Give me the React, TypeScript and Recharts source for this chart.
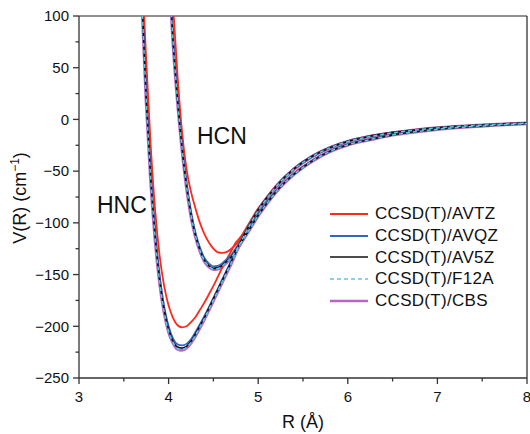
import React, { useLayoutEffect } from "react";
import { LineChart, Line, XAxis, YAxis, ReferenceLine, Legend } from "recharts";

const FONT = '"Liberation Sans", Arial, Helvetica, sans-serif';

if (typeof document !== "undefined" && document.body) {
  document.body.style.margin = "0";
}

// R grid (Å)
const rGrid = [
  3.65, 3.7, 3.75, 3.8, 3.85, 3.9, 3.95, 4.0, 4.05, 4.1, 4.15, 4.2, 4.25, 4.3, 4.35, 4.4, 4.45, 4.5, 4.55, 4.6,
  4.65, 4.7, 4.75, 4.8, 4.9, 5.0, 5.1, 5.2, 5.4, 5.6, 5.8, 6.0, 6.25, 6.5, 6.75, 7.0, 7.5, 8.0,
];

// HNC well (cm-1)
const hncAVTZ = [
  265, 150, 58, -25, -88, -132, -161, -180, -192, -199, -201, -200, -196, -191, -184, -177, -169, -161, -152, -143,
  -135, -127, -119, -114, -100, -86, -74.5, -64, -47.5, -35.5, -27, -21, -16, -12.5, -10, -8, -5.3, -3.5,
];
const hncAVQZ = [
  252, 123, 23, -53, -110, -152, -181, -200, -212, -217.5, -218.5, -217, -212.5, -205.5, -198, -190, -181.5, -172.5,
  -163.5, -154.5, -145.5, -136.5, -127, -118, -101.5, -87, -75, -64.5, -47.5, -35.5, -27, -21, -16, -12.5, -10, -8,
  -5.3, -3.5,
];
const hncAV5Z = [
  251, 122, 21, -55.5, -113, -155, -184, -203, -214.5, -220, -221, -219.5, -214.5, -207.5, -199.5, -191.5, -182.5,
  -173.5, -164.5, -155.5, -146.5, -137.5, -128, -119, -102.5, -87.5, -75.5, -64.8, -47.8, -35.8, -27.3, -21.3, -16.3,
  -12.8, -10.2, -8.1, -5.4, -3.5,
];
const hncF12A = [
  250, 121, 20.5, -56.5, -114.5, -156.5, -185.5, -204.5, -215.5, -221.5, -222.5, -220.5, -215.5, -208.5, -200.5,
  -192.5, -183.5, -174.5, -165.5, -156.5, -147.5, -138.5, -128.8, -119.8, -103, -88, -76, -65, -48, -36, -27.5, -21.5,
  -16.5, -13, -10.3, -8.2, -5.5, -3.6,
];
const hncCBS = [
  250, 121, 20, -57, -115, -157, -186, -205, -216, -222, -223, -221, -216, -209, -201, -193, -184, -175, -166, -157,
  -148, -139, -129, -120, -103, -88, -76, -65, -48, -36, -27.5, -21.5, -16.5, -13, -10.3, -8.2, -5.5, -3.6,
];

// HCN well (cm-1)
const hcnAVTZ = [
  null, null, null, null, null, null, null, 190, 110, 42, -12, -48, -70, -86, -100, -111, -119, -125, -128.5, -129,
  -128, -125, -121, -116, -104, -91, -79.5, -69, -52, -40, -30.7, -24.2, -19.2, -14.8, -11.8, -9.4, -6.2, -4,
];
const hcnAVQZ = [
  null, null, null, null, null, null, null, 152, 77, 20, -25.5, -62, -90, -110, -124, -134, -139.5, -142, -141.5, -139,
  -135, -131, -124.5, -118, -105, -91.5, -79.5, -69, -52.5, -40, -30.7, -24.2, -19.2, -14.8, -11.8, -9.4, -6.2, -4,
];
const hcnAV5Z = [
  null, null, null, null, null, null, null, 151, 76, 19, -27, -64, -92, -112, -126, -136, -141.5, -144, -143.5, -141,
  -137, -133, -126.3, -120, -106.5, -92.7, -80.7, -69.8, -53, -40.3, -30.9, -24.4, -19.4, -14.9, -11.9, -9.5, -6.3, -4,
];
const hcnF12A = [
  null, null, null, null, null, null, null, 150, 75, 18.5, -27.5, -64.5, -92.5, -112.5, -126.5, -136.5, -142, -144.7,
  -144.2, -141.7, -137.7, -133.7, -126.8, -120.3, -106.8, -92.9, -80.9, -70, -53, -40.5, -31, -24.5, -19.5, -15, -12,
  -9.5, -6.3, -4,
];
const hcnCBS = [
  null, null, null, null, null, null, null, 150, 75, 18, -28, -65, -93, -113, -127, -137, -142.5, -145, -144.5, -142,
  -138, -134, -127, -120.5, -107, -93, -81, -70, -53, -40.5, -31, -24.5, -19.5, -15, -12, -9.5, -6.3, -4,
];

const xTicks = [3, 3.5, 4, 4.5, 5, 5.5, 6, 6.5, 7, 7.5, 8];
const yTicks = [-250, -225, -200, -175, -150, -125, -100, -75, -50, -25, 0, 25, 50, 75, 100];

const methods = [
  { name: "CCSD(T)/AVTZ", key: "avtz", color: "#ff2a1a", width: 1.8, dash: undefined as string | undefined },
  { name: "CCSD(T)/AVQZ", key: "avqz", color: "#3565c2", width: 1.8, dash: undefined },
  { name: "CCSD(T)/AV5Z", key: "av5z", color: "#111111", width: 1.6, dash: undefined },
  { name: "CCSD(T)/F12A", key: "f12a", color: "#5cc8e4", width: 1.5, dash: "4 3" },
  { name: "CCSD(T)/CBS", key: "cbs", color: "#b468c6", width: 3.4, dash: undefined },
];

const data = rGrid.map((r, i) => ({
  r,
  hnc_avtz: hncAVTZ[i],
  hnc_avqz: hncAVQZ[i],
  hnc_av5z: hncAV5Z[i],
  hnc_f12a: hncF12A[i],
  hnc_cbs: hncCBS[i],
  hcn_avtz: hcnAVTZ[i],
  hcn_avqz: hcnAVQZ[i],
  hcn_av5z: hcnAV5Z[i],
  hcn_f12a: hcnF12A[i],
  hcn_cbs: hcnCBS[i],
}));

const AXIS = "#333";

const XTick = (props: any) => {
  const { x, y, payload } = props;
  const v = payload.value;
  const major = Number.isInteger(v);
  return (
    <g>
      <line x1={x} x2={x} y1={y} y2={y + (major ? 6 : 3.5)} stroke={AXIS} strokeWidth={1.3} />
      {major && (
        <text x={x} y={y + 24} textAnchor="middle" fontSize={15} fill="#111" fontFamily={FONT}>
          {v}
        </text>
      )}
    </g>
  );
};

const YTick = (props: any) => {
  const { x, y, payload } = props;
  const v = payload.value;
  const major = v % 50 === 0;
  return (
    <g>
      <line x1={x} x2={x - (major ? 6 : 3.5)} y1={y} y2={y} stroke={AXIS} strokeWidth={1.3} />
      {major && (
        <text x={x - 10} y={y} dy={5.3} textAnchor="end" fontSize={15} fill="#111" fontFamily={FONT}>
          {v < 0 ? "\u2212" + Math.abs(v) : String(v)}
        </text>
      )}
    </g>
  );
};

const YTitle = () => (
  <text
    x={26}
    y={198}
    transform="rotate(-90 26 198)"
    textAnchor="middle"
    fontSize={18}
    fill="#111"
    fontFamily={FONT}
  >
    <tspan>V(R) (cm</tspan>
    <tspan fontSize={12} dy={-7}>
      {"\u22121"}
    </tspan>
    <tspan dy={7}>)</tspan>
  </text>
);

const XTitle = () => (
  <text x={303} y={428} textAnchor="middle" fontSize={18} fill="#111" fontFamily={FONT}>
    R (Å)
  </text>
);

const LegendBox = () => (
  <div style={{ fontFamily: FONT, fontSize: 17, color: "#111", letterSpacing: 0.3, lineHeight: "21.75px" }}>
    {methods.map((m) => (
      <div key={m.key} style={{ display: "flex", alignItems: "center", height: 21.75, whiteSpace: "nowrap" }}>
        <svg width={38} height={10} style={{ marginRight: 7, flex: "none" }}>
          <line
            x1={0}
            x2={38}
            y1={5}
            y2={5}
            stroke={m.color}
            strokeWidth={m.key === "cbs" ? 2.4 : m.width}
            strokeDasharray={m.dash}
          />
        </svg>
        <span>{m.name}</span>
      </div>
    ))}
  </div>
);

const drawOrder = ["cbs", "avtz", "avqz", "av5z", "f12a"];

export default function App() {
  useLayoutEffect(() => {
    document.body.style.margin = "0";
  }, []);

  const lines: React.ReactNode[] = [];
  drawOrder.forEach((k) => {
    const m = methods.find((mm) => mm.key === k)!;
    ["hnc", "hcn"].forEach((mol) => {
      lines.push(
        <Line
          key={mol + k}
          type="monotone"
          dataKey={`${mol}_${k}`}
          name={m.name}
          stroke={m.color}
          strokeWidth={m.width}
          strokeDasharray={m.dash}
          dot={false}
          activeDot={false}
          isAnimationActive={false}
          connectNulls={false}
          legendType="none"
        />
      );
    });
  });

  return (
    <div style={{ width: 530, height: 434 }}>
      <LineChart
        width={530}
        height={434}
        data={data}
        margin={{ top: 16, right: 3, left: 8, bottom: 0 }}
        style={{ fontFamily: FONT }}
      >
        <XAxis
          dataKey="r"
          type="number"
          domain={[3, 8]}
          ticks={xTicks}
          interval={0}
          allowDataOverflow
          height={56}
          tickSize={0}
          tickMargin={0}
          tickLine={false}
          tick={<XTick />}
          axisLine={{ stroke: AXIS, strokeWidth: 1.3 }}
          label={<XTitle />}
        />
        <YAxis
          type="number"
          domain={[-250, 100]}
          ticks={yTicks}
          interval={0}
          allowDataOverflow
          width={71}
          tickSize={0}
          tickMargin={0}
          tickLine={false}
          tick={<YTick />}
          axisLine={{ stroke: AXIS, strokeWidth: 1.3 }}
          label={<YTitle />}
        />
        <ReferenceLine y={100} stroke="#222" strokeWidth={1} />
        <ReferenceLine x={8} stroke="#222" strokeWidth={1.2} />
        {lines}
        <Legend
          layout="vertical"
          align="center"
          verticalAlign="middle"
          wrapperStyle={{ left: 330, top: 203 }}
          content={() => <LegendBox />}
        />
        <g>
          <text x={197} y={144} fontSize={23} fill="#111" fontFamily={FONT}>
            HCN
          </text>
          <text x={97} y={213} fontSize={23} fill="#111" fontFamily={FONT}>
            HNC
          </text>
        </g>
      </LineChart>
    </div>
  );
}
